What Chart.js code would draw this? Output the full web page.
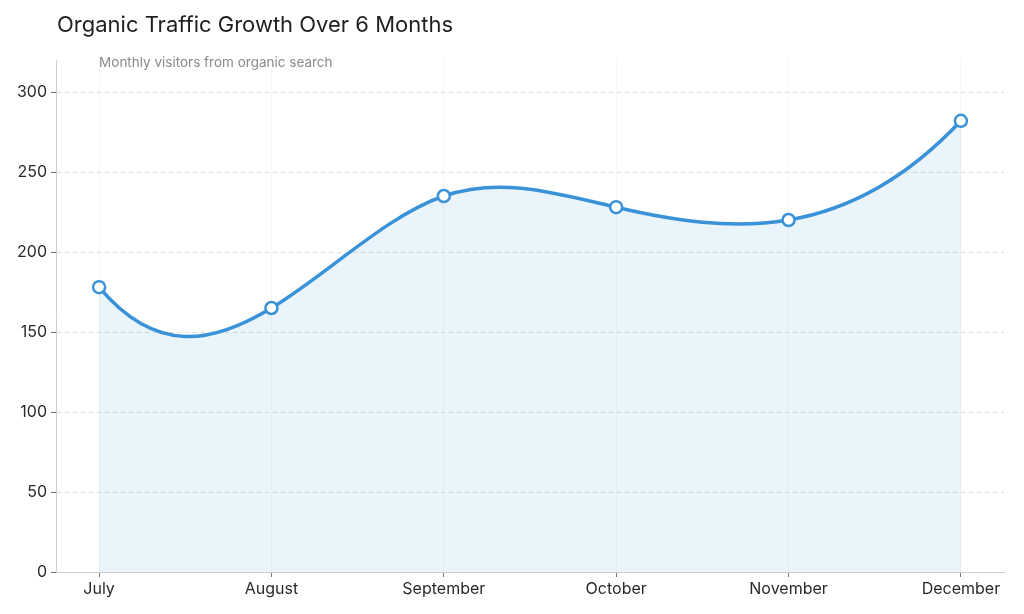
<!DOCTYPE html>
<html>
<head>
<meta charset="utf-8">
<title>Organic Traffic Growth Over 6 Months</title>
<script src="https://cdn.jsdelivr.net/npm/chart.js@4.4.1/dist/chart.umd.min.js"></script>
<style>
  html, body { margin: 0; padding: 0; background: #fff; }
  #wrap { width: 1024px; height: 614px; position: relative; }
</style>
</head>
<body>
<div id="wrap"><canvas id="trafficChart"></canvas></div>
<script>
const months = ['July', 'August', 'September', 'October', 'November', 'December'];
const visitors = [178, 165, 235, 228, 220, 282];
const yTicks = [0, 50, 100, 150, 200, 250, 300];

const chartTitle = 'Organic Traffic Growth Over 6 Months';
const chartSubtitle = 'Monthly visitors from organic search';

const FONT = 'Inter, "Noto Sans", sans-serif';
const LINE_BLUE = '#3a92d8';

// second derivatives of a not-a-knot cubic spline, unit spacing
function notAKnot(y) {
    const n = y.length;
    const A = [], r = [];
    for (let i = 0; i < n; i++) { A.push(new Array(n).fill(0)); r.push(0); }
    A[0][0] = 1; A[0][1] = -2; A[0][2] = 1;
    for (let i = 1; i < n - 1; i++) {
        A[i][i - 1] = 1; A[i][i] = 4; A[i][i + 1] = 1;
        r[i] = 6 * (y[i - 1] - 2 * y[i] + y[i + 1]);
    }
    A[n - 1][n - 3] = 1; A[n - 1][n - 2] = -2; A[n - 1][n - 1] = 1;
    // gaussian elimination
    for (let c = 0; c < n; c++) {
        let p = c;
        for (let k = c + 1; k < n; k++) if (Math.abs(A[k][c]) > Math.abs(A[p][c])) p = k;
        [A[c], A[p]] = [A[p], A[c]];
        [r[c], r[p]] = [r[p], r[c]];
        for (let k = c + 1; k < n; k++) {
            const f = A[k][c] / A[c][c];
            for (let j = c; j < n; j++) A[k][j] -= f * A[c][j];
            r[k] -= f * r[c];
        }
    }
    const M = new Array(n).fill(0);
    for (let i = n - 1; i >= 0; i--) {
        let s = r[i];
        for (let j = i + 1; j < n; j++) s -= A[i][j] * M[j];
        M[i] = s / A[i][i];
    }
    return M;
}

const splineCurve = {
    id: 'splineCurve',
    beforeDatasetsDraw(chart) {
        const meta = chart.getDatasetMeta(0);
        meta.dataset.updateControlPoints(chart.chartArea);
        const pts = meta.data;
        const py = pts.map(p => p.y);
        const M = notAKnot(py);
        for (let i = 0; i < pts.length - 1; i++) {
            const d = py[i + 1] - py[i];
            const s0 = d - (2 * M[i] + M[i + 1]) / 6;
            const s1 = d + (M[i] + 2 * M[i + 1]) / 6;
            const dx = (pts[i + 1].x - pts[i].x) / 3;
            pts[i].cp2x = pts[i].x + dx;
            pts[i].cp2y = py[i] + s0 / 3;
            pts[i + 1].cp1x = pts[i + 1].x - dx;
            pts[i + 1].cp1y = py[i + 1] - s1 / 3;
        }
    }
};

const headerText = {
    id: 'headerText',
    afterDraw(chart) {
        const ctx = chart.ctx;
        ctx.save();
        ctx.textBaseline = 'middle';
        ctx.textAlign = 'left';
        ctx.fillStyle = '#1f1f1f';
        ctx.font = '22px ' + FONT;
        ctx.fillText(chartTitle, 57, 25);
        ctx.fillStyle = '#8a8a8a';
        ctx.font = '13.5px ' + FONT;
        ctx.fillText(chartSubtitle, chart.scales.x.getPixelForValue(0), 63);
        ctx.restore();
    }
};

const ctx = document.getElementById('trafficChart').getContext('2d');

new Chart(ctx, {
    type: 'line',
    data: {
        datasets: [{
            label: 'Visitors',
            data: visitors.map((v, i) => ({ x: i, y: v })),
            borderColor: LINE_BLUE,
            backgroundColor: 'rgba(52, 152, 219, 0.11)',
            fill: 'origin',
            borderWidth: 3.5,
            tension: 0.4,
            pointRadius: 6,
            pointHoverRadius: 6,
            pointBackgroundColor: '#fff',
            pointBorderColor: LINE_BLUE,
            pointBorderWidth: 2.5
        }]
    },
    options: {
        responsive: true,
        maintainAspectRatio: false,
        animation: false,
        layout: { padding: { top: 60, left: 10, right: 20, bottom: 10 } },
        plugins: {
            legend: { display: false },
            tooltip: { enabled: false },
            title: { display: false }
        },
        scales: {
            x: {
                type: 'linear',
                min: -0.25,
                max: 5.25,
                afterBuildTicks(scale) {
                    scale.ticks = months.map((m, i) => ({ value: i }));
                },
                afterFit(scale) { scale.height = 32; },
                grid: {
                    color: 'rgba(0, 0, 0, 0.035)',
                    tickColor: '#777',
                    tickLength: 5
                },
                border: { color: '#cfcfcf' },
                ticks: {
                    color: '#2a2a2a',
                    font: { family: FONT, size: 16 },
                    padding: 3,
                    maxRotation: 0,
                    autoSkip: false,
                    callback: (v) => months[v]
                }
            },
            y: {
                min: 0,
                max: 320,
                afterBuildTicks(scale) {
                    scale.ticks = yTicks.map(v => ({ value: v }));
                },
                afterFit(scale) { scale.width = 46; },
                grid: {
                    color: '#dcdcdc',
                    tickColor: '#777',
                    tickLength: 5
                },
                border: { color: '#cfcfcf', dash: [4, 4] },
                ticks: {
                    color: '#2a2a2a',
                    font: { family: FONT, size: 16 },
                    padding: 4
                }
            }
        }
    },
    plugins: [splineCurve, headerText]
});
</script>
</body>
</html>
